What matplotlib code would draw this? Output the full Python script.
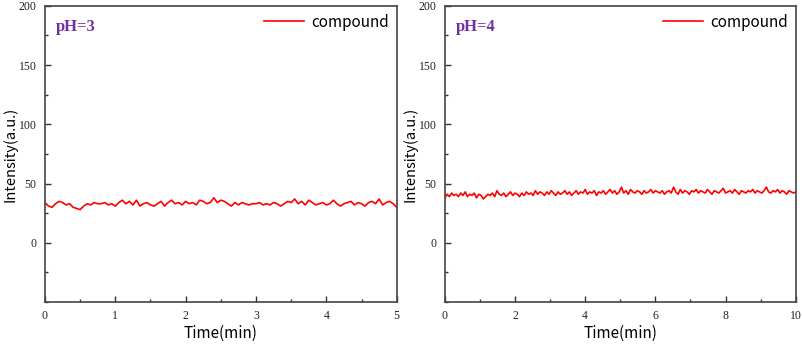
import numpy as np
import matplotlib
matplotlib.use("Agg")
import matplotlib.pyplot as plt
from matplotlib.ticker import MultipleLocator

# values (Intensity, a.u.)
ph3_vals = [34, 31, 30, 33, 35, 34, 32, 33, 30, 29, 28, 31, 33, 32, 34, 33, 33, 34, 32, 33,
            31, 34, 36, 33, 35, 32, 36, 31, 33, 34, 32, 31, 33, 35, 31, 34, 36, 33, 34, 32,
            35, 33, 34, 32, 36, 35, 33, 34, 38, 34, 36, 35, 33, 31, 34, 32, 34, 33, 32, 33,
            33, 34, 32, 33, 32, 34, 33, 31, 33, 35, 34, 37, 33, 35, 32, 36, 34, 32, 33, 34,
            32, 33, 36, 33, 31, 33, 34, 35, 32, 34, 33, 31, 34, 35, 33, 37, 32, 34, 35, 33, 30]
ph4_vals = [38, 41, 39, 42, 40, 41, 39, 42, 40, 43, 39, 41, 40, 42, 38, 41, 40, 37, 39, 41,
            40, 42, 39, 44, 41, 40, 42, 39, 41, 43, 40, 42, 41, 39, 42, 40, 43, 41, 42, 40,
            44, 41, 43, 42, 40, 43, 41, 44, 42, 40, 43, 41, 42, 44, 41, 43, 40, 42, 44, 41,
            43, 42, 45, 41, 43, 42, 44, 40, 43, 42, 44, 41, 43, 45, 42, 44, 41, 43, 47, 42,
            44, 41, 45, 43, 42, 44, 43, 41, 44, 42, 43, 45, 42, 44, 43, 42, 44, 41, 43, 44,
            42, 47, 43, 41, 45, 42, 44, 43, 41, 44, 43, 45, 42, 44, 43, 42, 45, 43, 41, 44,
            43, 42, 44, 46, 42, 43, 44, 42, 45, 43, 41, 44, 43, 42, 44, 43, 45, 42, 44, 43,
            42, 44, 47, 43, 42, 44, 43, 45, 42, 44, 43, 41, 44, 43, 42, 43]
ph3_tmax = 5
ph4_tmax = 10
panels = [("pH=3", ph3_vals, ph3_tmax, 1, 0.5),
          ("pH=4", ph4_vals, ph4_tmax, 2, 1)]

serif = "Liberation Serif"
sans = ["Noto Sans CJK SC", "DejaVu Sans"]

fig = plt.figure(figsize=(8.03, 3.46), dpi=100)
boxes = [[0.056, 0.127, 0.438, 0.856], [0.554, 0.127, 0.437, 0.856]]

for box, (tag, vals, tmax, major, minor) in zip(boxes, panels):
    ax = fig.add_axes(box)
    t = np.linspace(0, tmax, len(vals))
    ax.plot(t, vals, color="#ff0000", lw=1.2, label="compound")
    ax.set_xlim(0, tmax)
    ax.set_ylim(-50, 200)
    ax.xaxis.set_major_locator(MultipleLocator(major))
    ax.xaxis.set_minor_locator(MultipleLocator(minor))
    ax.set_yticks([0, 50, 100, 150, 200])
    ax.yaxis.set_minor_locator(MultipleLocator(25))
    ax.tick_params(which="both", direction="in", colors="#333333", labelcolor="#222222",
                   width=1.0)
    ax.tick_params(which="major", length=4, labelsize=8.5, pad=6)
    ax.tick_params(which="minor", length=2)
    for lab in ax.get_xticklabels() + ax.get_yticklabels():
        lab.set_fontfamily(serif)
    for s in ax.spines.values():
        s.set_color("#444444")
        s.set_linewidth(1.2)
    ax.set_xlabel("Time(min)", family=sans, fontsize=11, labelpad=2)
    ax.set_ylabel("Intensity(a.u.)", family=sans, fontsize=10.5, labelpad=1)
    ax.text(0.03, 0.955, tag, transform=ax.transAxes, family=serif, fontweight="bold",
            fontsize=12, color="#7030a0", va="top")
    ax.legend(loc="upper right", frameon=False, prop={"family": sans, "size": 11},
              handlelength=2.6, borderaxespad=0.1, handletextpad=0.5)

fig.savefig("out.png", dpi=100)
